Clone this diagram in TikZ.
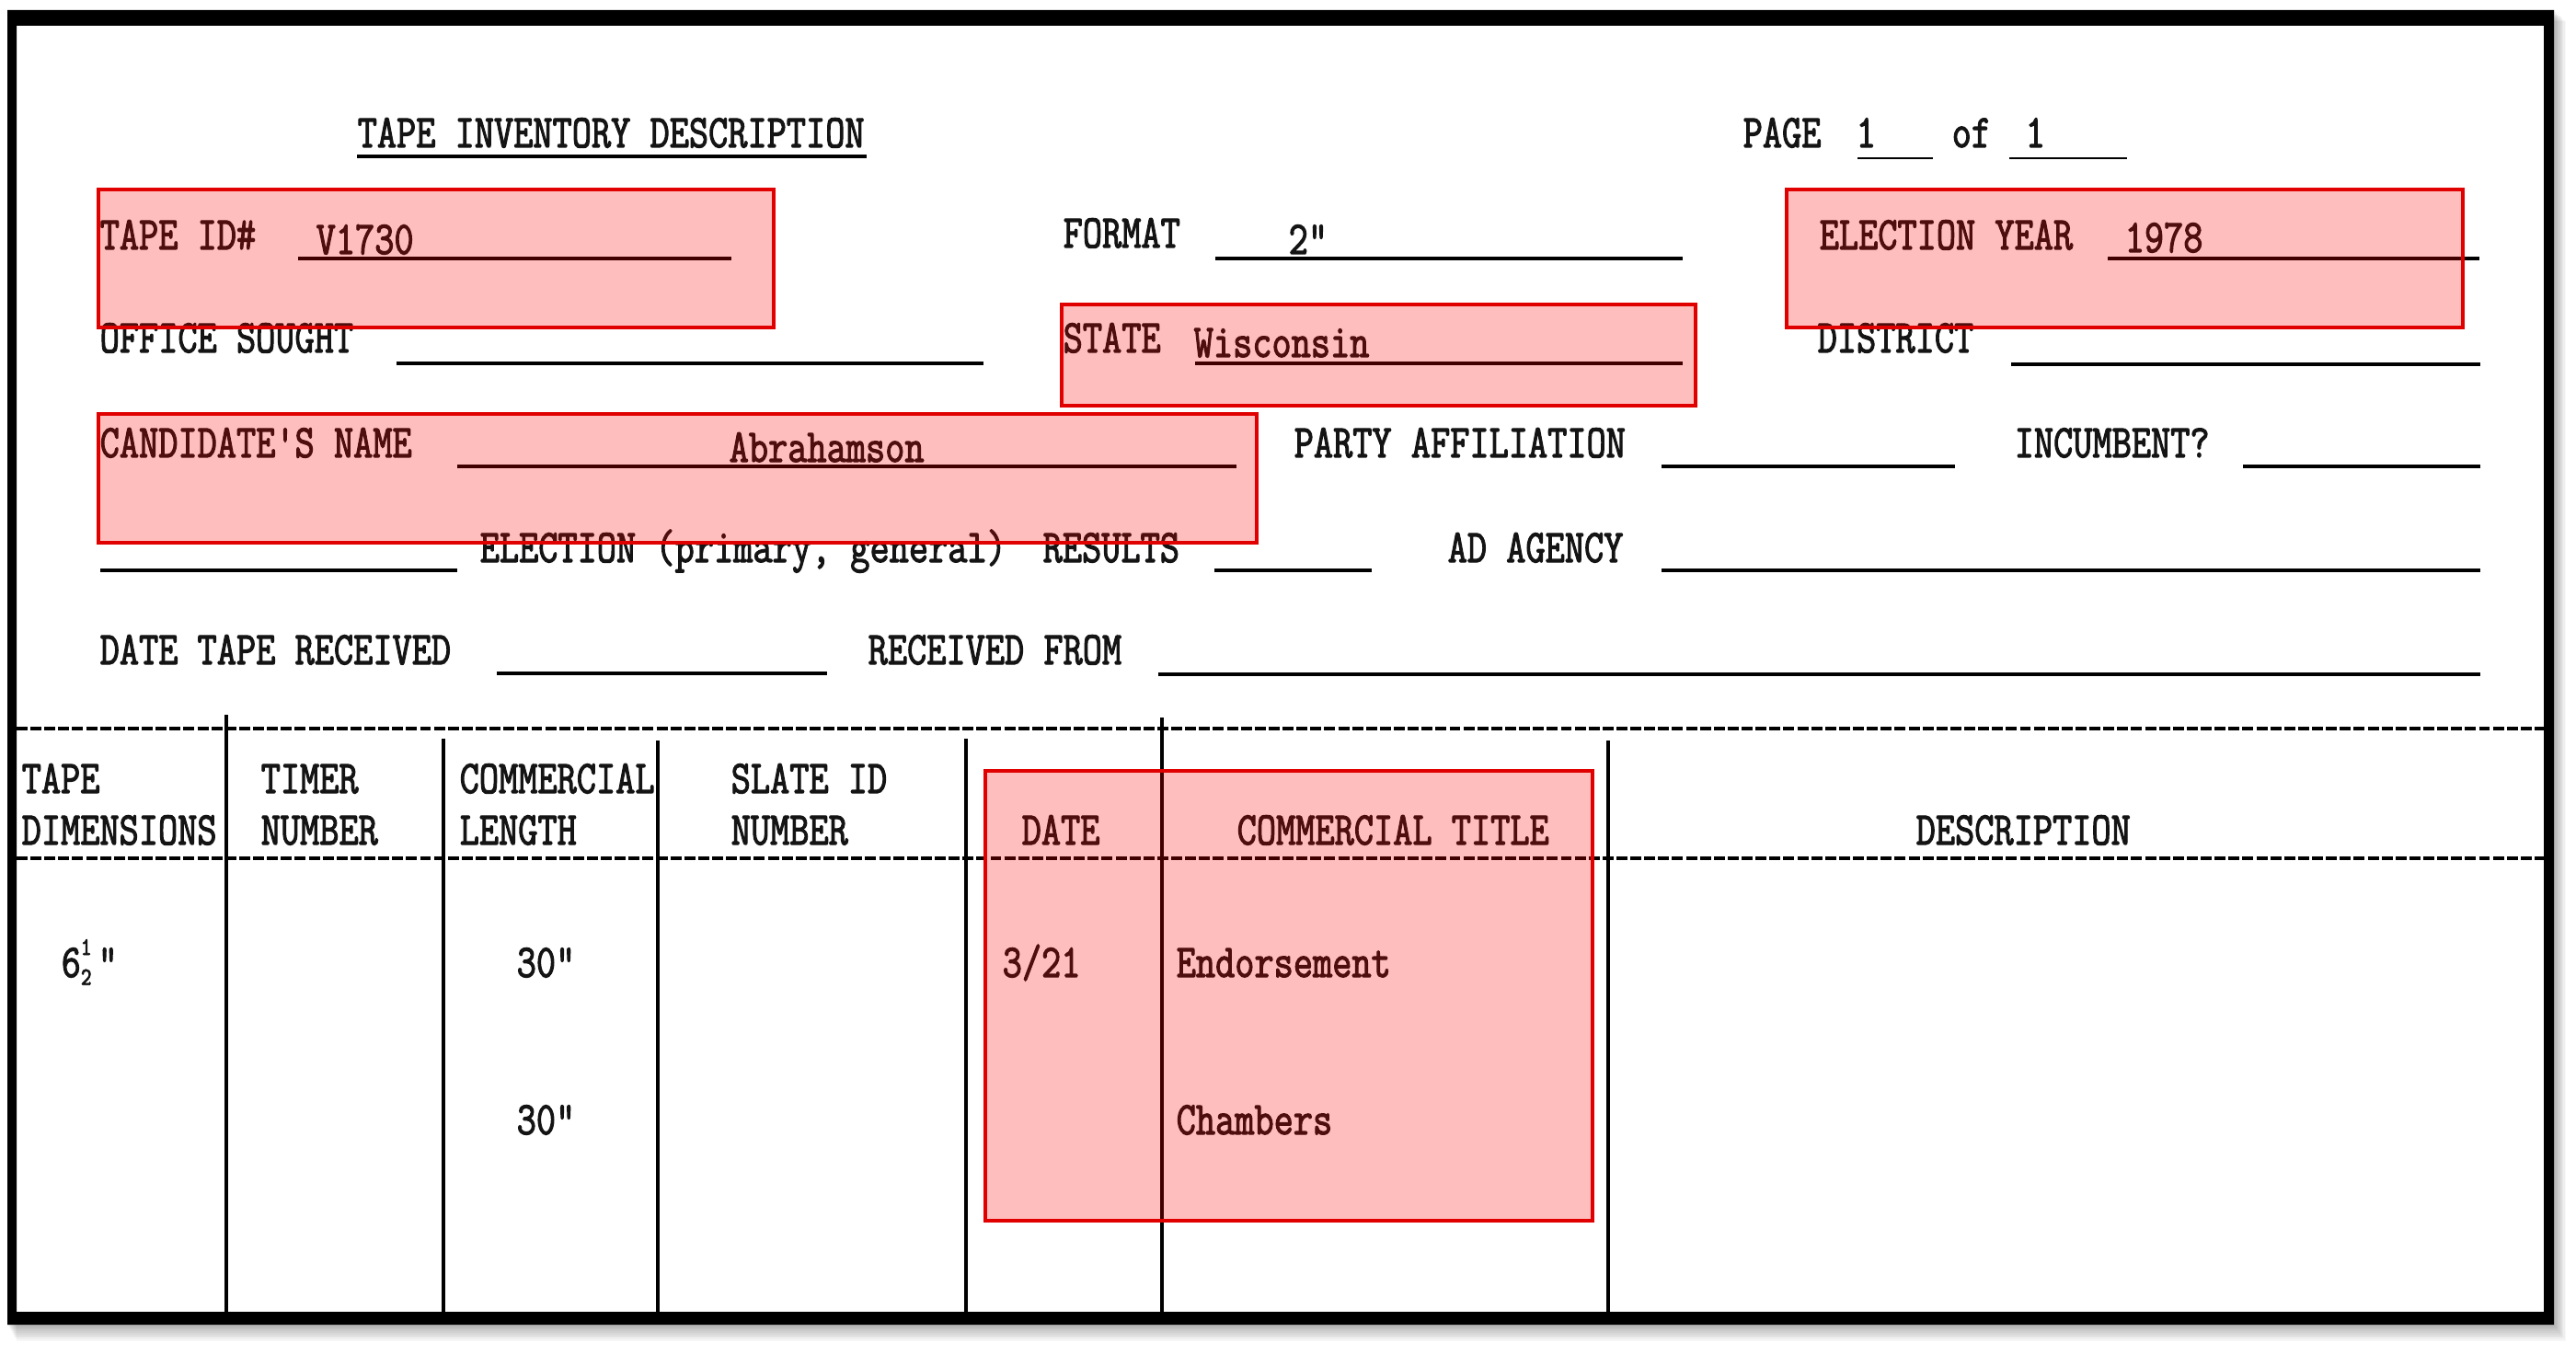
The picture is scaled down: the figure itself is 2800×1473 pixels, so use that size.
\documentclass[tikz,border=0pt]{standalone}
\usepackage{fontspec}
\usepackage{graphicx}
\newfontfamily\twfam[FakeBold=2.5]{Latin Modern Mono}
\newcommand\twfont{\fontsize{11.7pt}{13pt}\selectfont\twfam}
\newcommand\tw[1]{\scalebox{1}[1.235]{#1}}
\newcommand\smalldig{\fontsize{6.3pt}{7pt}\selectfont}
\definecolor{hlred}{RGB}{225,0,0}
\definecolor{ink}{RGB}{20,20,20}
\begin{document}
\begin{tikzpicture}[x=0.01cm,y=-0.01cm,
  lbl/.style={font=\twfont, text=ink, inner sep=0pt, anchor=base west},
  uline/.style={line width=1.1pt},
  dline/.style={line width=1.3pt, dash pattern=on 3.4pt off 0.9pt},
  vline/.style={line width=1pt},
  hlbox/.style={draw=hlred, line width=0.9pt, fill=red, fill opacity=0.255}]
\useasboundingbox (0,0) rectangle (2800,1473);
\fill[white] (0,0) rectangle (2800,1473);
% soft shadow
\foreach \k in {1,...,10}
  \fill[black, opacity=0.03] (8+\k,11+\k*1.2) rectangle (2776+\k*1.3,1440+\k*1.8);
\fill[white] (18,28) rectangle (2765,1426);

% ---------- header block ----------
\node[lbl] (title) at (388,160) {\tw{TAPE INVENTORY DESCRIPTION}};
\draw[uline] (388,170) -- (942,170);
\node[lbl] (page) at (1894,160) {\tw{PAGE}};
\node[lbl] (pgnum) at (2017,160) {\tw{1}};
\node[lbl] (of) at (2121,160) {\tw{of}};
\node[lbl] (pgtot) at (2201,160) {\tw{1}};
\draw[line width=0.8pt] (2019,172) -- (2101,172);
\draw[line width=0.8pt] (2184,172) -- (2312,172);

% row 1
\node[lbl] (tapeid) at (108,271) {\tw{TAPE ID\#}};
\node[lbl] (tapeidv) at (343,276) {\tw{V1730}};
\draw[uline] (324,281) -- (795,281);
\node[lbl] (format) at (1155,269) {\tw{FORMAT}};
\node[lbl] (formatv) at (1400,276) {\tw{2"}};
\draw[uline] (1321,281) -- (1829,281);
\node[lbl] (elyear) at (1977,271) {\tw{ELECTION YEAR}};
\node[lbl] (elyearv) at (2309,274) {\tw{1978}};
\draw[uline] (2291,281) -- (2695,281);

% row 2
\node[lbl] (office) at (108,383) {\tw{OFFICE SOUGHT}};
\draw[uline] (431,395) -- (1069,395);
\node[lbl] (state) at (1155,383) {\tw{STATE}};
\node[lbl] (statev) at (1297,388) {\tw{Wisconsin}};
\draw[uline] (1299,395) -- (1829,395);
\node[lbl] (district) at (1975,383) {\tw{DISTRICT}};
\draw[uline] (2186,396) -- (2696,396);

% row 3
\node[lbl] (cand) at (108,497) {\tw{CANDIDATE'S NAME}};
\node[lbl] (candv) at (792,502) {\tw{Abrahamson}};
\draw[uline] (497,507) -- (1344,507);
\node[lbl] (party) at (1406,497) {\tw{PARTY AFFILIATION}};
\draw[uline] (1806,507) -- (2125,507);
\node[lbl] (incumb) at (2189,497) {\tw{INCUMBENT?}};
\draw[uline] (2438,507) -- (2696,507);

% row 4
\draw[uline] (109,620) -- (497,620);
\node[lbl] (election) at (521,611) {\tw{ELECTION (primary, general)}};
\node[lbl] (results) at (1133,611) {\tw{RESULTS}};
\draw[uline] (1320,620) -- (1491,620);
\node[lbl] (adagency) at (1573,611) {\tw{AD AGENCY}};
\draw[uline] (1806,620) -- (2696,620);

% row 5
\node[lbl] (daterec) at (108,722) {\tw{DATE TAPE RECEIVED}};
\draw[uline] (540,732) -- (899,732);
\node[lbl] (recfrom) at (943,722) {\tw{RECEIVED FROM}};
\draw[uline] (1259,733) -- (2696,733);

% ---------- table ----------
\draw[dline] (18,792) -- (2765,792);
\draw[dline] (18,933) -- (2765,933);
\draw[vline] (246,777) -- (246,1426);
\draw[vline] (482,803) -- (482,1426);
\draw[vline] (715,805) -- (715,1426);
\draw[vline] (1050,803) -- (1050,1426);
\draw[vline] (1263,780) -- (1263,1426);
\draw[vline] (1748,805) -- (1748,1426);

\node[lbl] (h1a) at (23,862) {\tw{TAPE}};
\node[lbl] (h1b) at (23,918) {\tw{DIMENSIONS}};
\node[lbl] (h2a) at (283,862) {\tw{TIMER}};
\node[lbl] (h2b) at (283,918) {\tw{NUMBER}};
\node[lbl] (h3a) at (499,862) {\tw{COMMERCIAL}};
\node[lbl] (h3b) at (499,918) {\tw{LENGTH}};
\node[lbl] (h4a) at (794,862) {\tw{SLATE ID}};
\node[lbl] (h4b) at (794,918) {\tw{NUMBER}};
\node[lbl] (h5) at (1110,918) {\tw{DATE}};
\node[lbl] (h6) at (1344,918) {\tw{COMMERCIAL TITLE}};
\node[lbl] (h7) at (2082,918) {\tw{DESCRIPTION}};

\node[lbl] (dim) at (66,1062) {\tw{6\raisebox{-2pt}{\shortstack[c]{\smalldig 1\\[0.6pt]\smalldig 2}}\kern2pt"}};
\node[lbl] (len1) at (561,1062) {\tw{30"}};
\node[lbl] (len2) at (561,1233) {\tw{30"}};
\node[lbl] (date1) at (1089,1062) {\tw{3/21}};
\node[lbl] (title1) at (1278,1062) {\tw{Endorsement}};
\node[lbl] (title2) at (1278,1233) {\tw{Chambers}};

% ---------- highlight boxes ----------
\draw[hlbox] (107,206) rectangle (841,356);
\draw[hlbox] (1154,331) rectangle (1843,441);
\draw[hlbox] (1942,206) rectangle (2677,356);
\draw[hlbox] (107,450) rectangle (1366,590);
\draw[hlbox] (1071,838) rectangle (1731,1327);

% ---------- frame ----------
\fill[black, even odd rule] (8,11) rectangle (2776,1440) (18,28) rectangle (2765,1426);
\end{tikzpicture}
\end{document}
